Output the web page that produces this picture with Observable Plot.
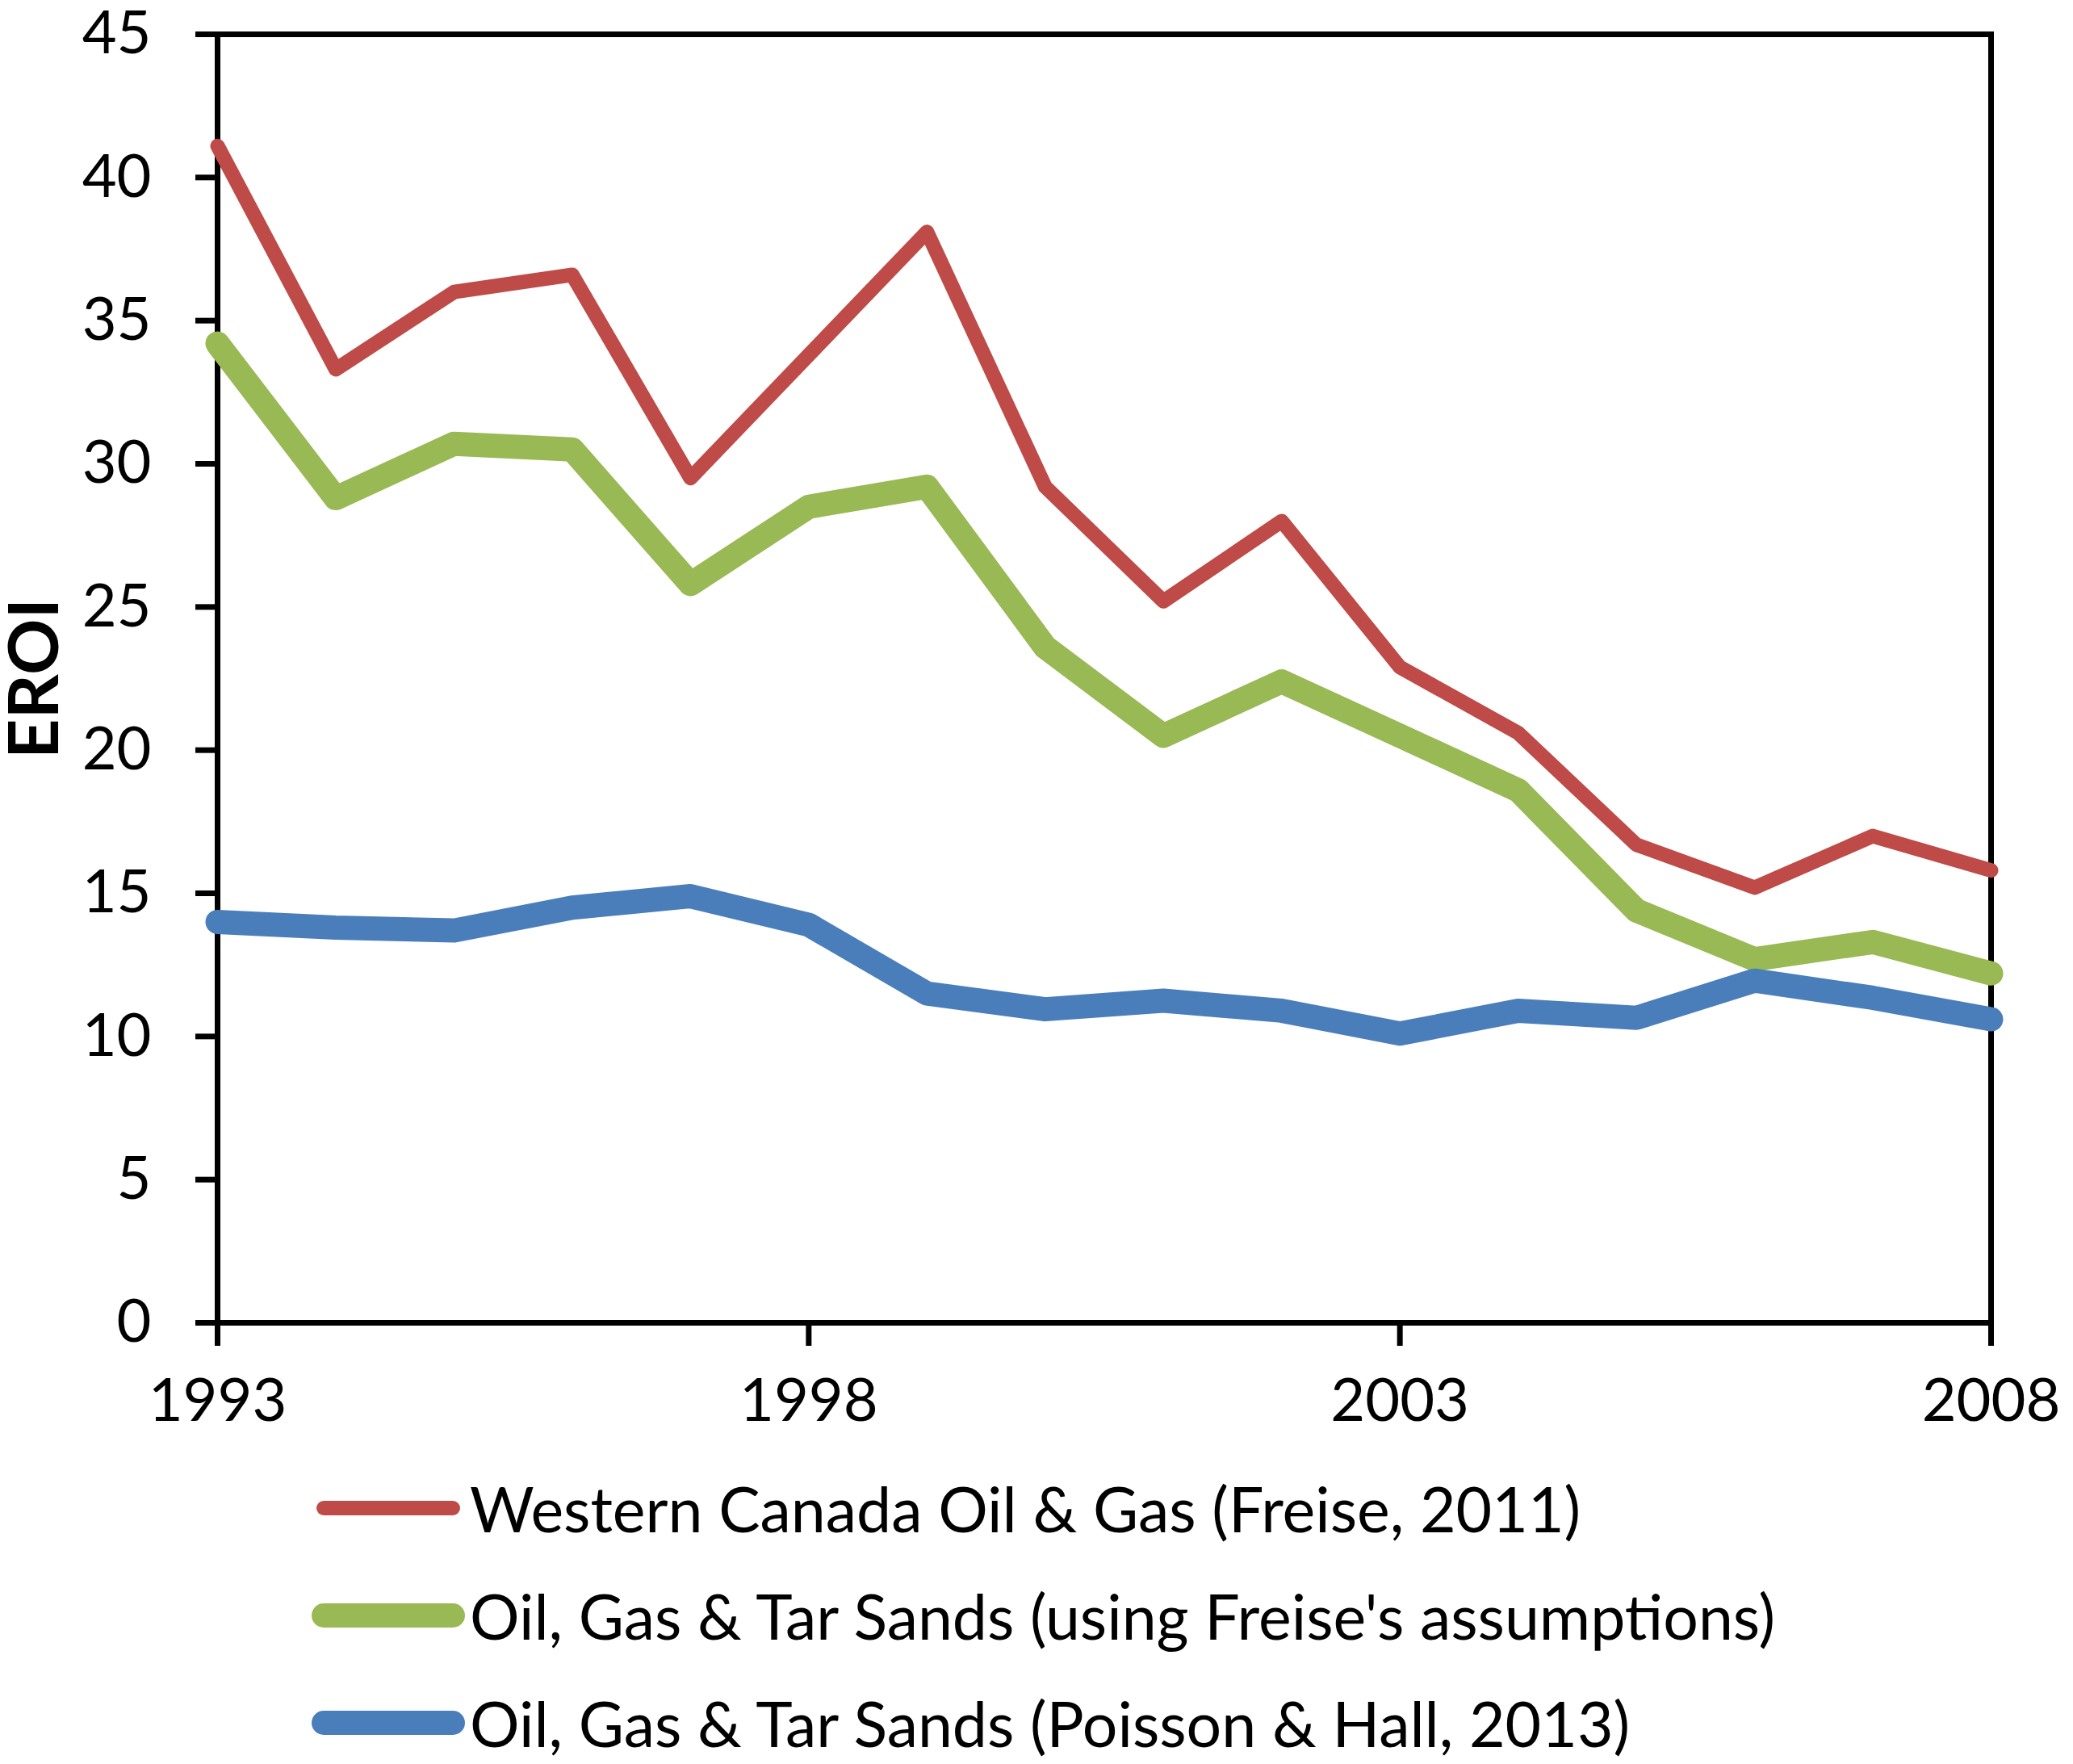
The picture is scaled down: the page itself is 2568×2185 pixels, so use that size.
<!DOCTYPE html>
<html>
<head>
<meta charset="utf-8">
<script src="https://cdn.jsdelivr.net/npm/d3@7"></script>
<script src="https://cdn.jsdelivr.net/npm/@observablehq/plot@0.6"></script>
<style>
  html, body { margin: 0; padding: 0; background: #fff; }
  #chart svg { display: block; }
  #legend { font-family: Lato, sans-serif; font-size: 77px; color: #000; padding-top: 1px; }
  .row { display: flex; align-items: center; height: 133px; }
  .row svg { margin-left: 383px; display: block; }
  .row span { white-space: nowrap; }
</style>
</head>
<body>
<div id="chart"></div>
<div id="legend"></div>
<script>
const years = [1993, 1994, 1995, 1996, 1997, 1998, 1999, 2000, 2001, 2002, 2003, 2004, 2005, 2006, 2007, 2008];
const westernCanada = [41.1, 33.3, 36.0, 36.6, 29.5, 33.8, 38.1, 29.2, 25.2, 28.0, 22.9, 20.6, 16.7, 15.2, 17.0, 15.8];
const freiseAssumptions = [34.2, 28.8, 30.7, 30.5, 25.8, 28.5, 29.2, 23.6, 20.5, 22.4, 20.5, 18.6, 14.4, 12.7, 13.3, 12.2];
const poissonHall = [14.0, 13.8, 13.7, 14.5, 14.9, 13.9, 11.5, 10.95, 11.25, 10.9, 10.1, 10.9, 10.65, 11.95, 11.35, 10.6];
const seriesNames = [
  "Western Canada Oil & Gas (Freise, 2011)",
  "Oil, Gas & Tar Sands (using Freise's assumptions)",
  "Oil, Gas & Tar Sands (Poisson & Hall, 2013)"
];
const seriesColors = ["#BE4B48", "#98B954", "#4A7EBB"];
const seriesWidths = [18, 30, 30];
const xTicks = [1993, 1998, 2003, 2008];
const yTicks = [0, 5, 10, 15, 20, 25, 30, 35, 40, 45];
const yLabel = "EROI";

const seriesValues = [westernCanada, freiseAssumptions, poissonHall];
const tables = seriesValues.map((vals, i) => years.map((yr, j) => ({year: yr, value: vals[j], series: seriesNames[i]})));

const plot = Plot.plot({
  width: 2568,
  height: 1800,
  marginLeft: 269,
  marginRight: 102,
  marginTop: 42,
  marginBottom: 162,
  style: {fontFamily: "Lato, sans-serif", fontSize: "74px", color: "#000", background: "#fff", overflow: "visible"},
  x: {domain: [1993, 2008]},
  y: {domain: [0, 45]},
  marks: [
    Plot.axisX({ticks: xTicks, tickSize: 29, tickPadding: 40, strokeWidth: 7, tickFormat: d => String(d), label: null}),
    Plot.axisY({ticks: yTicks, tickSize: 27, tickPadding: 55, strokeWidth: 7, label: null}),
    Plot.frame({stroke: "#000", strokeWidth: 7}),
    Plot.text([yLabel], {text: d => d, frameAnchor: "left", textAnchor: "middle", rotate: -90, dx: -225, fontWeight: "bold", fontSize: 86}),
    ...tables.map((t, i) => Plot.line(t, {
      x: "year", y: "value",
      stroke: seriesColors[i], strokeWidth: seriesWidths[i],
      strokeLinejoin: "round", strokeLinecap: "round"
    }))
  ]
});
document.getElementById("chart").appendChild(plot);

const legend = d3.select("#legend");
seriesNames.forEach((name, i) => {
  const row = legend.append("div").attr("class", "row");
  const svg = row.append("svg").attr("width", 199).attr("height", 40);
  svg.append("line").attr("x1", 18).attr("x2", 178).attr("y1", 20).attr("y2", 20)
    .attr("stroke", seriesColors[i]).attr("stroke-width", seriesWidths[i]).attr("stroke-linecap", "round");
  row.append("span").text(name);
});
</script>
</body>
</html>
